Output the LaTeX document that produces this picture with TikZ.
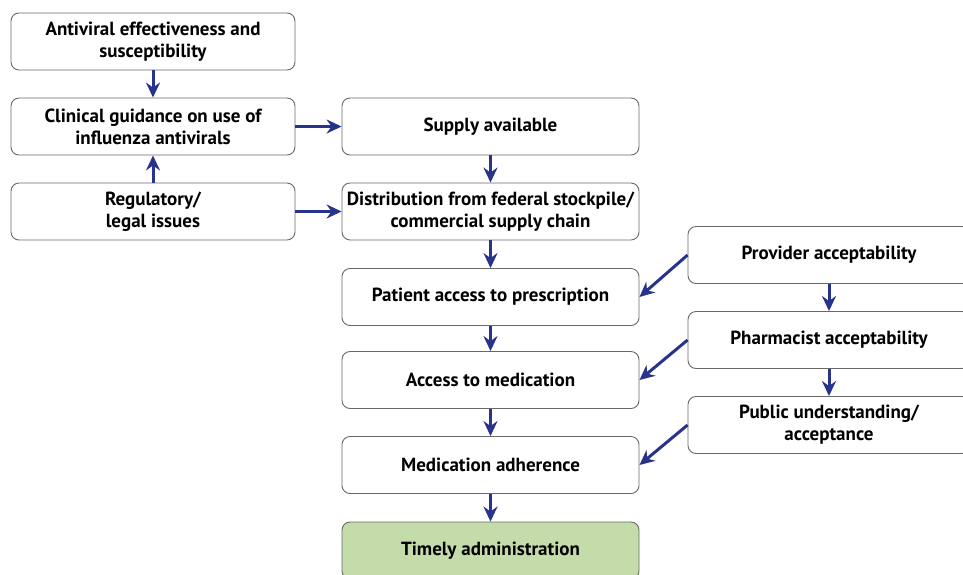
\documentclass[tikz,border=0pt]{standalone}
\usepackage{fontspec}
\setmainfont{PT Sans}
\usetikzlibrary{arrows.meta}
\definecolor{arrblue}{RGB}{40,52,140}
\definecolor{boxgreen}{RGB}{196,219,170}
\definecolor{boxline}{RGB}{105,105,105}

\begin{document}
\begin{tikzpicture}
[x=1pt, y=-1pt,
 box/.style ={draw=boxline, fill=white, line width=.9pt, rounded corners=8pt,
   minimum width=284pt, minimum height=57pt, align=center,
   font=\bfseries\fontsize{19}{22}\selectfont, inner sep=1pt},
 arr/.style ={draw=arrblue, line width=3pt,
   -{Stealth[length=15pt, width=14pt, inset=5pt]}}]
\useasboundingbox (0,0) rectangle (963,574);
\clip (0,0) rectangle (963,574);
% left column
\node[box] (antiviral) at (153,41.5) {Antiviral effectiveness and\\susceptibility};
\node[box] (clinical) at (153,126.5) {Clinical guidance on use of\\influenza antivirals};
\node[box] (legal) at (153,211.5) {Regulatory/\\legal issues};
% middle column
\node[box, minimum width=297pt] (supply) at (490.5,126.5) {Supply available};
\node[box, minimum width=297pt] (distrib) at (490.5,211.5) {Distribution from federal stockpile/\\commercial supply chain};
\node[box, minimum width=297pt] (patient) at (490.5,297) {Patient access to prescription};
\node[box, minimum width=297pt] (access) at (490.5,380) {Access to medication};
\node[box, minimum width=297pt] (adhere) at (490.5,465) {Medication adherence};
\node[box, minimum width=297pt, fill=boxgreen] (timely) at (490.5,550.5) {Timely administration};
% right column
\node[box, minimum width=282pt] (provider) at (829,255) {Provider acceptability};
\node[box, minimum width=282pt] (pharm) at (829,340) {Pharmacist acceptability};
\node[box, minimum width=282pt] (public) at (829,425) {Public understanding/\\acceptance};
% arrows
\draw[arr] (antiviral) -- (clinical);
\draw[arr] (legal) -- (clinical);
\draw[arr] (clinical) -- (supply);
\draw[arr] (legal) -- (distrib);
\draw[arr] (supply) -- (distrib);
\draw[arr] (distrib) -- (patient);
\draw[arr] (patient) -- (access);
\draw[arr] (access) -- (adhere);
\draw[arr] (adhere) -- (timely);
\draw[arr] (provider) -- (pharm);
\draw[arr] (pharm) -- (public);
\draw[arr] (provider.west) -- (patient.east);
\draw[arr] (pharm.west) -- (access.east);
\draw[arr] (public.west) -- (adhere.east);
\end{tikzpicture}
\end{document}
